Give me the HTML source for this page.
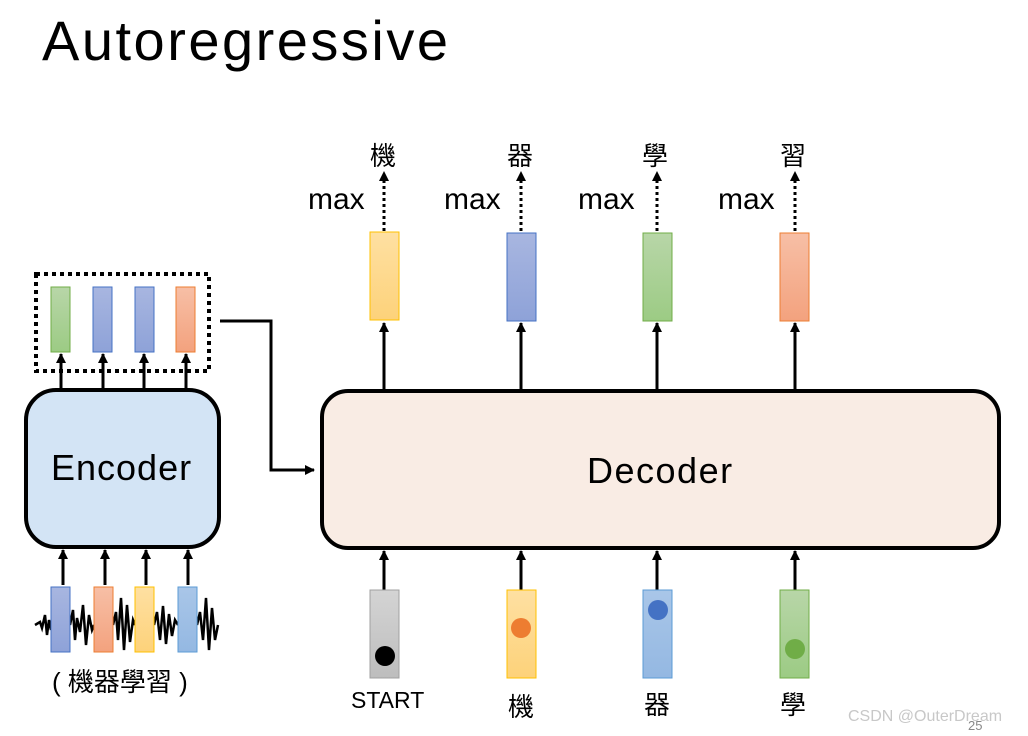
<!DOCTYPE html>
<html><head><meta charset="utf-8"><style>
body{margin:0;background:#fff;width:1028px;height:736px;overflow:hidden;position:relative;font-family:"Liberation Sans","Noto Sans CJK TC",sans-serif}
.t{position:absolute;white-space:nowrap}
</style></head><body>
<svg width="1028" height="736" style="position:absolute;left:0;top:0">
<defs>
<marker id="b" markerWidth="10" markerHeight="10" refX="9" refY="5" orient="auto" markerUnits="userSpaceOnUse"><path d="M0,0 L10,5 L0,10z" fill="#000"/></marker>
<linearGradient id="gG" x1="0" y1="0" x2="0" y2="1"><stop offset="0" stop-color="#b8d6a8"/><stop offset="1" stop-color="#9ccb84"/></linearGradient>
<linearGradient id="gB" x1="0" y1="0" x2="0" y2="1"><stop offset="0" stop-color="#a8b6e0"/><stop offset="1" stop-color="#8ea2d8"/></linearGradient>
<linearGradient id="gO" x1="0" y1="0" x2="0" y2="1"><stop offset="0" stop-color="#f7bfa6"/><stop offset="1" stop-color="#f3a27e"/></linearGradient>
<linearGradient id="gY" x1="0" y1="0" x2="0" y2="1"><stop offset="0" stop-color="#fee0a2"/><stop offset="1" stop-color="#fdd27a"/></linearGradient>
<linearGradient id="gL" x1="0" y1="0" x2="0" y2="1"><stop offset="0" stop-color="#a9c6e8"/><stop offset="1" stop-color="#94b8e2"/></linearGradient>
<linearGradient id="gS" x1="0" y1="0" x2="0" y2="1"><stop offset="0" stop-color="#d4d4d4"/><stop offset="1" stop-color="#bdbdbd"/></linearGradient>
</defs>
<rect x="36" y="274" width="173" height="97" fill="none" stroke="#000" stroke-width="4" stroke-dasharray="4,4"/>
<rect x="51" y="287" width="19" height="65" fill="url(#gG)" stroke="#70ad47"/>
<rect x="93" y="287" width="19" height="65" fill="url(#gB)" stroke="#4472c4"/>
<rect x="135" y="287" width="19" height="65" fill="url(#gB)" stroke="#4472c4"/>
<rect x="176" y="287" width="19" height="65" fill="url(#gO)" stroke="#ed7d31"/>
<g stroke="#000" stroke-width="3" marker-end="url(#b)">
<line x1="61" y1="389" x2="61" y2="354"/><line x1="103" y1="389" x2="103" y2="354"/><line x1="144" y1="389" x2="144" y2="354"/><line x1="186" y1="389" x2="186" y2="354"/>
<line x1="63" y1="585" x2="63" y2="550"/><line x1="105" y1="585" x2="105" y2="550"/><line x1="146" y1="585" x2="146" y2="550"/><line x1="188" y1="585" x2="188" y2="550"/>
</g>
<rect x="26" y="390" width="193" height="157" rx="30" fill="#d3e4f5" stroke="#000" stroke-width="4"/>
<polyline points="220,321 271,321 271,470 314,470" fill="none" stroke="#000" stroke-width="3" marker-end="url(#b)"/>
<rect x="322" y="391" width="677" height="157" rx="26" fill="#f9ece4" stroke="#000" stroke-width="4"/>
<g stroke="#000" stroke-width="2.5" fill="none">
<path d="M35,625 L40,622 42,628 45,615 47,635 49,620 51,630"/>
<path d="M70,625 L73,610 75,640 77,618 80,632 83,605 86,645 89,615 92,630 94,625"/>
<path d="M113,625 L116,612 118,640 121,598 124,650 127,605 130,642 133,620 135,625"/>
<path d="M154,625 L157,612 160,640 163,606 166,644 169,614 172,636 175,620 178,625"/>
<path d="M197,625 L200,612 203,640 206,598 209,650 212,608 215,640 218,625"/>
</g>
<rect x="51" y="587" width="19" height="65" fill="url(#gB)" stroke="#4472c4"/>
<rect x="94" y="587" width="19" height="65" fill="url(#gO)" stroke="#ed7d31"/>
<rect x="135" y="587" width="19" height="65" fill="url(#gY)" stroke="#ffc000"/>
<rect x="178" y="587" width="19" height="65" fill="url(#gL)" stroke="#5b9bd5"/>
<rect x="370" y="232" width="29" height="88" fill="url(#gY)" stroke="#ffc000"/>
<rect x="507" y="233" width="29" height="88" fill="url(#gB)" stroke="#4472c4"/>
<rect x="643" y="233" width="29" height="88" fill="url(#gG)" stroke="#70ad47"/>
<rect x="780" y="233" width="29" height="88" fill="url(#gO)" stroke="#ed7d31"/>
<g stroke="#000" stroke-width="3" marker-end="url(#b)">
<line x1="384" y1="390" x2="384" y2="323"/><line x1="521" y1="390" x2="521" y2="323"/><line x1="657" y1="390" x2="657" y2="323"/><line x1="795" y1="390" x2="795" y2="323"/>
<line x1="384" y1="590" x2="384" y2="551"/><line x1="521" y1="590" x2="521" y2="551"/><line x1="657" y1="590" x2="657" y2="551"/><line x1="795" y1="590" x2="795" y2="551"/>
</g>
<g stroke="#000" stroke-width="3" stroke-dasharray="3,3" marker-end="url(#b)">
<line x1="384" y1="231" x2="384" y2="172"/><line x1="521" y1="231" x2="521" y2="172"/><line x1="657" y1="231" x2="657" y2="172"/><line x1="795" y1="231" x2="795" y2="172"/>
</g>
<rect x="370" y="590" width="29" height="88" fill="url(#gS)" stroke="#a0a0a0"/>
<rect x="507" y="590" width="29" height="88" fill="url(#gY)" stroke="#ffc000"/>
<rect x="643" y="590" width="29" height="88" fill="url(#gL)" stroke="#5b9bd5"/>
<rect x="780" y="590" width="29" height="88" fill="url(#gG)" stroke="#70ad47"/>
<circle cx="385" cy="656" r="10" fill="#000"/>
<circle cx="521" cy="628" r="10" fill="#ed7d31"/>
<circle cx="658" cy="610" r="10" fill="#4472c4"/>
<circle cx="795" cy="649" r="10" fill="#70ad47"/>
</svg>
<div class="t" style="left:42px;top:8px;font-size:56px;letter-spacing:2.5px;color:#000">Autoregressive</div>
<div class="t" style="left:51px;top:447px;font-size:36px;letter-spacing:1px">Encoder</div>
<div class="t" style="left:587px;top:450px;font-size:36px;letter-spacing:1.5px">Decoder</div>
<div class="t" style="left:308px;top:183px;font-size:30px">max</div>
<div class="t" style="left:444px;top:183px;font-size:30px">max</div>
<div class="t" style="left:578px;top:183px;font-size:30px">max</div>
<div class="t" style="left:718px;top:183px;font-size:30px">max</div>
<div class="t" style="left:370px;top:136px;font-size:26px">機</div>
<div class="t" style="left:507px;top:136px;font-size:26px">器</div>
<div class="t" style="left:642px;top:136px;font-size:26px">學</div>
<div class="t" style="left:780px;top:136px;font-size:26px">習</div>
<div class="t" style="left:351px;top:687px;font-size:23px">START</div>
<div class="t" style="left:508px;top:687px;font-size:26px">機</div>
<div class="t" style="left:644px;top:685px;font-size:26px">器</div>
<div class="t" style="left:780px;top:685px;font-size:26px">學</div>
<div class="t" style="left:52px;top:662px;font-size:26px">( 機器學習 )</div>
<div class="t" style="left:848px;top:708px;font-size:16px;color:#c8c8c8">CSDN @OuterDream</div>
<div class="t" style="left:968px;top:718px;font-size:13px;color:#888">25</div>
</body></html>
